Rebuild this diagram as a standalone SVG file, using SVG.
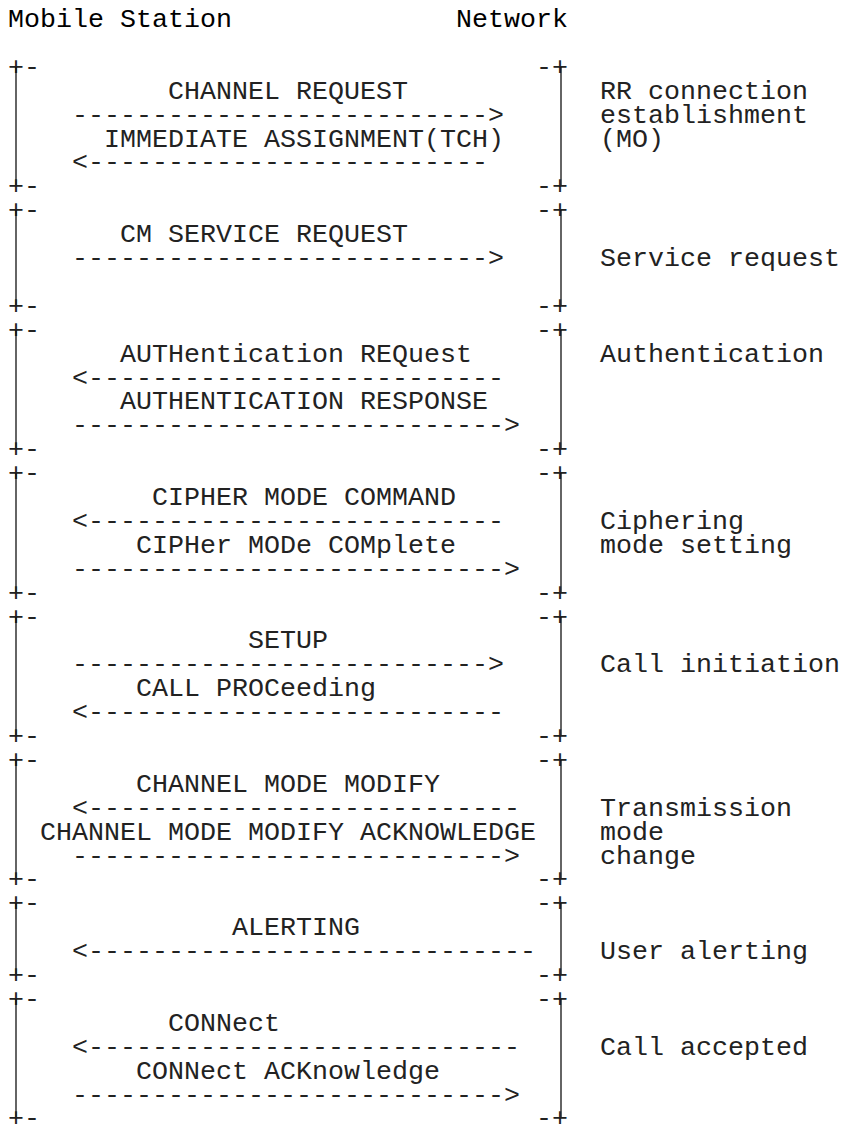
<svg xmlns="http://www.w3.org/2000/svg" width="843" height="1128" viewBox="0 0 843 1128">
<style>
text{font-family:"Liberation Mono","Courier New",monospace;font-size:26.667px;fill:#222;white-space:pre}
.h{fill:#000}
.v{stroke:#111;stroke-width:1.3;fill:none}
</style>
<rect width="843" height="1128" fill="#fff"/>
<g id="header">
<text class="h" x="8" y="27">Mobile Station</text>
<text class="h" x="456" y="27">Network</text>
</g>
<g id="rr-connection">
<text x="8" y="74.8">+-</text><text x="536" y="74.8">-+</text>
<line class="v" x1="16" y1="67" x2="16" y2="186"/><line class="v" x1="561" y1="67" x2="561" y2="186"/>
<text x="8" y="194.3">+-</text><text x="536" y="194.3">-+</text>
<text x="168" y="98.7">CHANNEL REQUEST</text>
<text x="104" y="146.5">IMMEDIATE ASSIGNMENT(TCH)</text>
<text x="600" y="98.7">RR connection</text>
<text x="600" y="122.6">establishment</text>
<text x="600" y="146.5">(MO)</text>
</g>
<g id="service-request">
<text x="8" y="218.2">+-</text><text x="536" y="218.2">-+</text>
<line class="v" x1="16" y1="210" x2="16" y2="306"/><line class="v" x1="561" y1="210" x2="561" y2="306"/>
<text x="8" y="313.8">+-</text><text x="536" y="313.8">-+</text>
<text x="120" y="242.1">CM SERVICE REQUEST</text>
<text x="600" y="266">Service request</text>
</g>
<g id="authentication">
<text x="8" y="337.7">+-</text><text x="536" y="337.7">-+</text>
<line class="v" x1="16" y1="330" x2="16" y2="449"/><line class="v" x1="561" y1="330" x2="561" y2="449"/>
<text x="8" y="457.2">+-</text><text x="536" y="457.2">-+</text>
<text x="120" y="361.6">AUTHentication REQuest</text>
<text x="120" y="409.4">AUTHENTICATION RESPONSE</text>
<text x="600" y="361.6">Authentication</text>
</g>
<g id="ciphering">
<text x="8" y="481.1">+-</text><text x="536" y="481.1">-+</text>
<line class="v" x1="16" y1="473" x2="16" y2="593"/><line class="v" x1="561" y1="473" x2="561" y2="593"/>
<text x="8" y="600.6">+-</text><text x="536" y="600.6">-+</text>
<text x="152" y="505">CIPHER MODE COMMAND</text>
<text x="136" y="552.8">CIPHer MODe COMplete</text>
<text x="600" y="528.9">Ciphering</text>
<text x="600" y="552.8">mode setting</text>
</g>
<g id="call-initiation">
<text x="8" y="624.5">+-</text><text x="536" y="624.5">-+</text>
<line class="v" x1="16" y1="617" x2="16" y2="736"/><line class="v" x1="561" y1="617" x2="561" y2="736"/>
<text x="8" y="744">+-</text><text x="536" y="744">-+</text>
<text x="248" y="648.4">SETUP</text>
<text x="136" y="696.2">CALL PROCeeding</text>
<text x="600" y="672.3">Call initiation</text>
</g>
<g id="mode-change">
<text x="8" y="767.9">+-</text><text x="536" y="767.9">-+</text>
<line class="v" x1="16" y1="760" x2="16" y2="879"/><line class="v" x1="561" y1="760" x2="561" y2="879"/>
<text x="8" y="887.4">+-</text><text x="536" y="887.4">-+</text>
<text x="136" y="791.8">CHANNEL MODE MODIFY</text>
<text x="40" y="839.6">CHANNEL MODE MODIFY ACKNOWLEDGE</text>
<text x="600" y="815.7">Transmission</text>
<text x="600" y="839.6">mode</text>
<text x="600" y="863.5">change</text>
</g>
<g id="user-alerting">
<text x="8" y="911.3">+-</text><text x="536" y="911.3">-+</text>
<line class="v" x1="16" y1="903" x2="16" y2="975"/><line class="v" x1="561" y1="903" x2="561" y2="975"/>
<text x="8" y="983">+-</text><text x="536" y="983">-+</text>
<text x="232" y="935.2">ALERTING</text>
<text x="600" y="959.1">User alerting</text>
</g>
<g id="call-accepted">
<text x="8" y="1006.9">+-</text><text x="536" y="1006.9">-+</text>
<line class="v" x1="16" y1="999" x2="16" y2="1118"/><line class="v" x1="561" y1="999" x2="561" y2="1118"/>
<text x="8" y="1126.4">+-</text><text x="536" y="1126.4">-+</text>
<text x="168" y="1030.8">CONNect</text>
<text x="136" y="1078.6">CONNect ACKnowledge</text>
<text x="600" y="1054.7">Call accepted</text>
</g>
<g id="connectors">
<text x="72" y="122.6">--------------------------&gt;</text>
<text x="72" y="170.4">&lt;-------------------------</text>
<text x="72" y="266">--------------------------&gt;</text>
<text x="72" y="385.5">&lt;--------------------------</text>
<text x="72" y="433.3">---------------------------&gt;</text>
<text x="72" y="528.9">&lt;--------------------------</text>
<text x="72" y="576.7">---------------------------&gt;</text>
<text x="72" y="672.3">--------------------------&gt;</text>
<text x="72" y="720.1">&lt;--------------------------</text>
<text x="72" y="815.7">&lt;---------------------------</text>
<text x="72" y="863.5">---------------------------&gt;</text>
<text x="72" y="959.1">&lt;----------------------------</text>
<text x="72" y="1054.7">&lt;---------------------------</text>
<text x="72" y="1102.5">---------------------------&gt;</text>
</g>
</svg>
